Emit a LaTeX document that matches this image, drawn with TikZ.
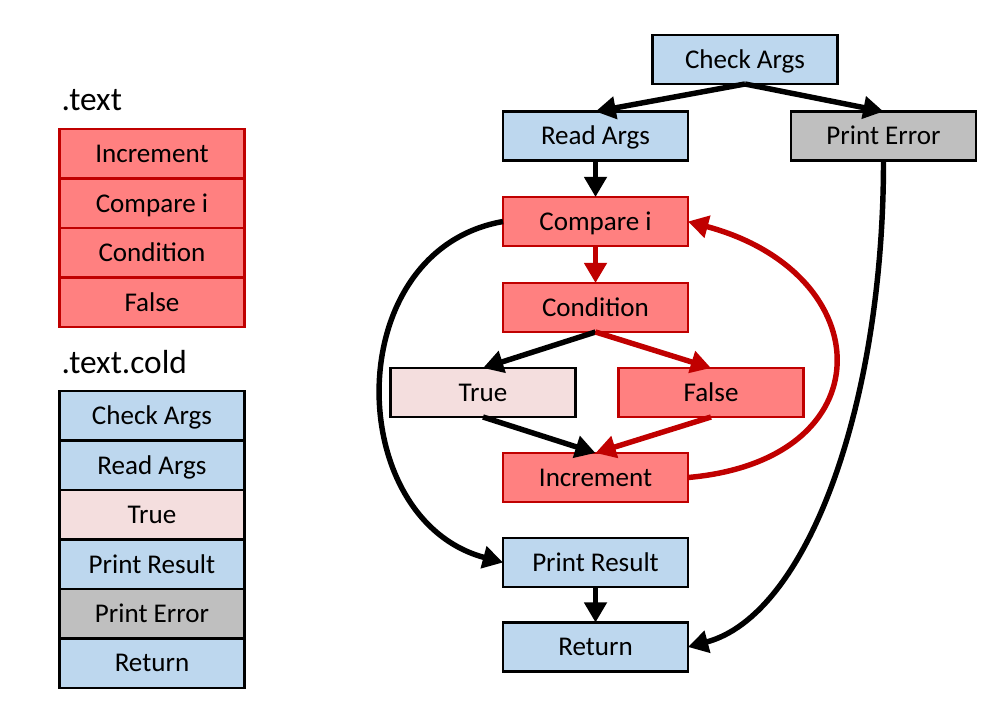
\documentclass[tikz,border=0pt]{standalone}
\usepackage{fontspec}
\setmainfont{Carlito}
\usepackage{tikz}
\usetikzlibrary{arrows.meta, positioning}
\definecolor{coldblue}{RGB}{189, 215, 238}
\definecolor{errgray}{RGB}{191, 191, 191}
\definecolor{hotfill}{RGB}{255, 128, 128}
\definecolor{hotedge}{RGB}{192, 0, 0}
\definecolor{truepink}{RGB}{244, 222, 222}
\newcommand{\boxfont}{\fontsize{15.4}{18}\selectfont}
\newcommand{\secfont}{\fontsize{19}{22}\selectfont}

\begin{document}
\begin{tikzpicture}[
    x=0.02cm, y=0.02cm,
    >={Triangle[length=11.5pt, width=12.5pt]},
    line width=3.1pt,
    box/.style={draw, line width=1.2pt, minimum width=3.7cm, minimum height=0.98cm, inner sep=0pt, outer sep=0pt, text height=12.5pt, text depth=2.5pt, font=\boxfont},
    coldbox/.style={box, fill=coldblue},
    hotbox/.style={box, draw=hotedge, fill=hotfill},
    errbox/.style={box, fill=errgray},
    truebox/.style={box, fill=truepink},
    stack/.style={minimum height=0.99cm},
]
    \useasboundingbox (0,0) rectangle (1006,-723);

    % --- LEFT: section layout ---
    \node[anchor=base west, font=\secfont] (hotlbl) at (53,-111) {.text};
    \node[hotbox, stack, anchor=north west] (tinc) at (59.5,-129) {Increment};
    \node[hotbox, stack, below=0pt of tinc] (tcmp) {Compare i};
    \node[hotbox, stack, below=0pt of tcmp] (tcond) {Condition};
    \node[hotbox, stack, below=0pt of tcond] (tfls) {False};

    \node[anchor=base west, font=\secfont] (coldlbl) at (53,-373) {.text.cold};
    \node[coldbox, stack, anchor=north west] (cchk) at (59.5,-391) {Check Args};
    \node[coldbox, stack, below=0pt of cchk] (crd) {Read Args};
    \node[truebox, stack, below=0pt of crd] (ctru) {True};
    \node[coldbox, stack, below=0pt of ctru] (cpres) {Print Result};
    \node[errbox, stack, below=0pt of cpres] (cperr) {Print Error};
    \node[coldbox, stack, below=0pt of cperr] (cret) {Return};

    % --- RIGHT: control flow ---
    \node[coldbox] (chk) at (745,-59.5) {Check Args};
    \node[coldbox] (rd) at (595.5,-136) {Read Args};
    \node[errbox] (perr) at (883.5,-136) {Print Error};
    \node[hotbox] (cmp) at (595.5,-221.5) {Compare i};
    \node[hotbox] (cond) at (595.5,-307.5) {Condition};
    \node[truebox] (tru) at (483,-392.5) {True};
    \node[hotbox] (fls) at (711,-392.5) {False};
    \node[hotbox] (inc) at (595.5,-477.5) {Increment};
    \node[coldbox] (pres) at (595.5,-562.5) {Print Result};
    \node[coldbox] (ret) at (595.5,-647) {Return};

    \draw[->] (chk.south) -- (rd.north);
    \draw[->] (chk.south) -- (perr.north);
    \draw[->] (rd) -- (cmp);
    \draw[->, hotedge] (cmp) -- (cond);
    \draw[->] (cond.south) -- (tru.north);
    \draw[->, hotedge] (cond.south) -- (fls.north);
    \draw[->] (tru.south) -- (inc.north);
    \draw[->, hotedge] (fls.south) -- (inc.north);
    \draw[->, hotedge] (inc.east) to[out=5, in=-15, looseness=2] (cmp.east);
    \draw[->] (cmp.west) to[out=190, in=165, looseness=1.25] (pres.west);
    \draw[->] (pres) -- (ret);
    \draw[->] (perr.south) to[out=-90, in=15, out looseness=1.2, in looseness=0.6] (ret.east);
\end{tikzpicture}
\end{document}
